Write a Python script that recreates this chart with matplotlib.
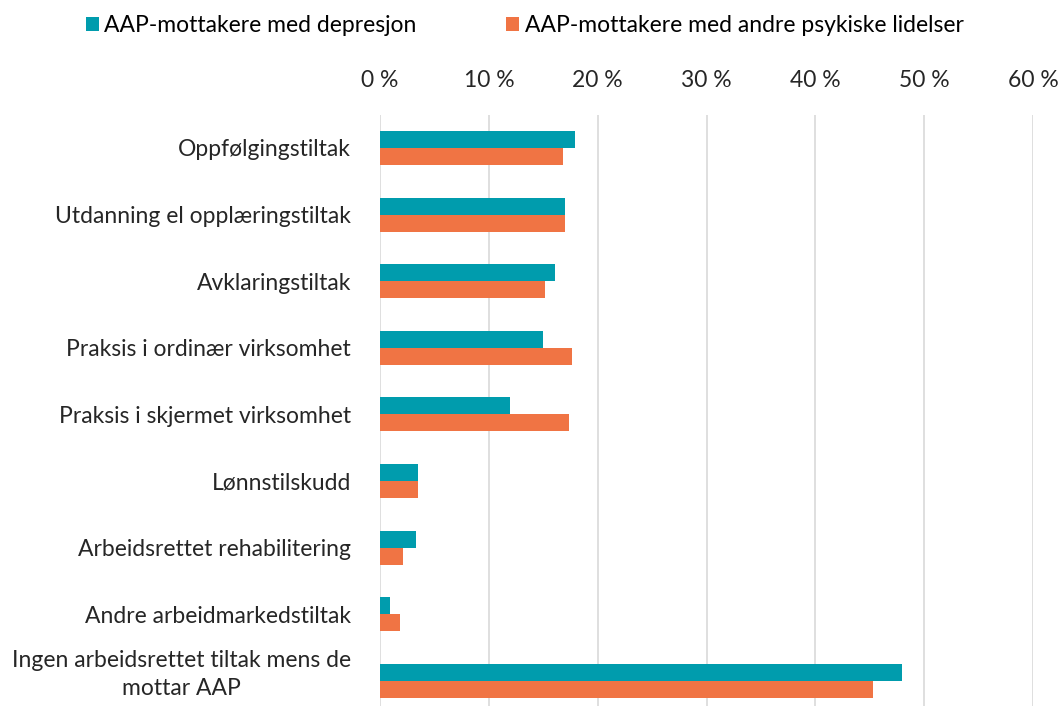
import matplotlib.pyplot as plt
import numpy as np

plt.rcParams["font.family"] = ["Lato", "DejaVu Sans"]

categories = [
    "Oppfølgingstiltak",
    "Utdanning el opplæringstiltak",
    "Avklaringstiltak",
    "Praksis i ordinær virksomhet",
    "Praksis i skjermet virksomhet",
    "Lønnstilskudd",
    "Arbeidsrettet rehabilitering",
    "Andre arbeidmarkedstiltak",
    "Ingen arbeidsrettet tiltak mens de\nmottar AAP",
]
depresjon = [17.9, 17.0, 16.1, 15.0, 11.9, 3.5, 3.3, 0.95, 48.0]
andre = [16.8, 17.0, 15.2, 17.6, 17.4, 3.5, 2.1, 1.8, 45.3]
ticks = [0, 10, 20, 30, 40, 50, 60]

teal = "#009CAD"
orange = "#F07444"
fs = 16.5

fig = plt.figure(figsize=(10.62, 7.06), dpi=100)
ax = fig.add_axes([380 / 1062, 0, 653 / 1062, 1 - 114.7 / 706])

y = np.arange(len(categories))
h = 0.255
ax.barh(y - h / 2, depresjon, height=h, color=teal, label="AAP-mottakere med depresjon", zorder=3)
ax.barh(y + h / 2, andre, height=h, color=orange, label="AAP-mottakere med andre psykiske lidelser", zorder=3)

ax.set_xlim(0, 60)
ax.set_ylim(8.38, -0.5)
ax.set_xticks(ticks)
ax.set_xticklabels([f"{t} %" for t in ticks], fontsize=fs, color="#262626")
ax.xaxis.tick_top()
ax.tick_params(axis="x", length=0, pad=17)
ax.set_yticks(y)
# last (two-line) label is drawn separately so it can sit a bit higher
ax.set_yticklabels(categories[:-1] + [""], fontsize=fs, color="#262626")
ax.tick_params(axis="y", length=0, pad=21)
ax.annotate(categories[-1], xy=(0, y[-1]), xycoords=("axes fraction", "data"),
            xytext=(-21, 4.5), textcoords="offset points", ha="right", va="center",
            multialignment="center", linespacing=1.4, fontsize=fs, color="#262626",
            annotation_clip=False)
ax.grid(axis="x", color="#d9d9d9", linewidth=1.2, zorder=0)
for s in ax.spines.values():
    s.set_visible(False)

fig.legend(loc="center", bbox_to_anchor=(0.494, 0.964), ncol=2, frameon=False,
           fontsize=fs, handlelength=0.57, handleheight=0.57, handletextpad=0.25,
           columnspacing=3.9)

plt.savefig("out.png")
